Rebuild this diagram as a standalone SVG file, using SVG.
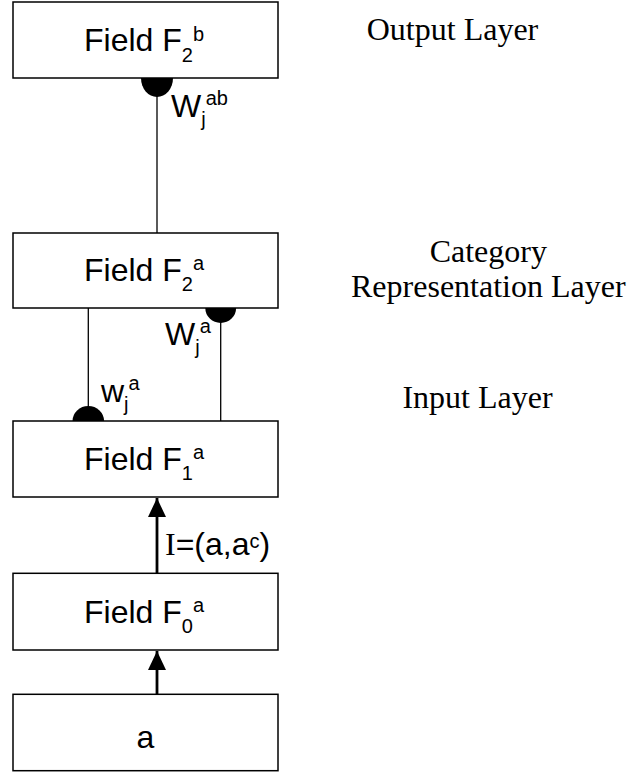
<svg xmlns="http://www.w3.org/2000/svg" width="628" height="772" viewBox="0 0 628 772">
<defs>
<style>
.box{fill:#fff;stroke:#000;stroke-width:1.5}
.lbl{font-family:"Liberation Sans",Arial,sans-serif;font-size:32px;fill:#000}
.ser{font-family:"Liberation Serif","Times New Roman",serif;font-size:32px;fill:#000}
.small{font-size:20px}
.conn{stroke:#000;stroke-width:1.3;fill:none}
.thick{stroke:#000;stroke-width:2.8;fill:none}
.disk{fill:#000}
</style>
<marker id="arr" markerUnits="userSpaceOnUse" markerWidth="20" markerHeight="20" refX="19" refY="9" orient="auto">
<path d="M0,0 L19,9 L0,18 Z" fill="#000"/>
</marker>
</defs>
<rect width="628" height="772" fill="#fff"/>
<g id="connectors">
<line class="conn" x1="157" y1="78" x2="157" y2="233"/>
<path class="disk" d="M141,78 A16,19 0 0 0 173,78 Z"/>
<line class="conn" x1="88.3" y1="308" x2="88.3" y2="421"/>
<path class="disk" d="M72.5,421 A15.8,15 0 0 1 104.1,421 Z"/>
<line class="conn" x1="220.7" y1="308" x2="220.7" y2="421"/>
<path class="disk" d="M205.3,308 A15.4,15 0 0 0 236.1,308 Z"/>
<line class="thick" x1="157" y1="573" x2="157" y2="498" marker-end="url(#arr)"/>
<line class="thick" x1="157" y1="694" x2="157" y2="651" marker-end="url(#arr)"/>
<text class="lbl" x="171" y="116.5">W<tspan class="small" dy="9">j</tspan><tspan class="small" dy="-21">ab</tspan></text>
<text class="lbl" x="165" y="345">W<tspan class="small" dy="9">j</tspan><tspan class="small" dy="-21">a</tspan></text>
<text class="lbl" x="101" y="401.5">w<tspan class="small" dy="9">j</tspan><tspan class="small" dy="-21">a</tspan></text>
<text class="lbl" x="165" y="555"><tspan class="ser">I</tspan>=(a,a<tspan class="small" dy="-7">c</tspan><tspan dy="7">)</tspan></text>
</g>
<g id="f2b">
<rect class="box" x="13" y="2" width="265" height="76"/>
<text class="lbl" x="84" y="50.5">Field F<tspan class="small" dy="11">2</tspan><tspan class="small" dy="-21">b</tspan></text>
</g>
<g id="f2a">
<rect class="box" x="13" y="233" width="265" height="75"/>
<text class="lbl" x="84" y="281">Field F<tspan class="small" dy="10">2</tspan><tspan class="small" dy="-21">a</tspan></text>
</g>
<g id="f1a">
<rect class="box" x="13" y="421" width="265" height="76"/>
<text class="lbl" x="84" y="469.5">Field F<tspan class="small" dy="10">1</tspan><tspan class="small" dy="-21">a</tspan></text>
</g>
<g id="f0a">
<rect class="box" x="13" y="573.3" width="265" height="76.7"/>
<text class="lbl" x="84" y="622.5">Field F<tspan class="small" dy="10">0</tspan><tspan class="small" dy="-21">a</tspan></text>
</g>
<g id="input">
<rect class="box" x="13" y="694.3" width="265" height="76.4"/>
<text class="lbl" x="145.5" y="747.7" text-anchor="middle">a</text>
</g>
<g id="layer-labels">
<text class="ser" x="452.5" y="40" text-anchor="middle">Output Layer</text>
<text class="ser" x="488.3" y="261.7" text-anchor="middle">Category</text>
<text class="ser" x="488.3" y="296.7" text-anchor="middle">Representation Layer</text>
<text class="ser" x="477.5" y="408.3" text-anchor="middle">Input Layer</text>
</g>
</svg>
